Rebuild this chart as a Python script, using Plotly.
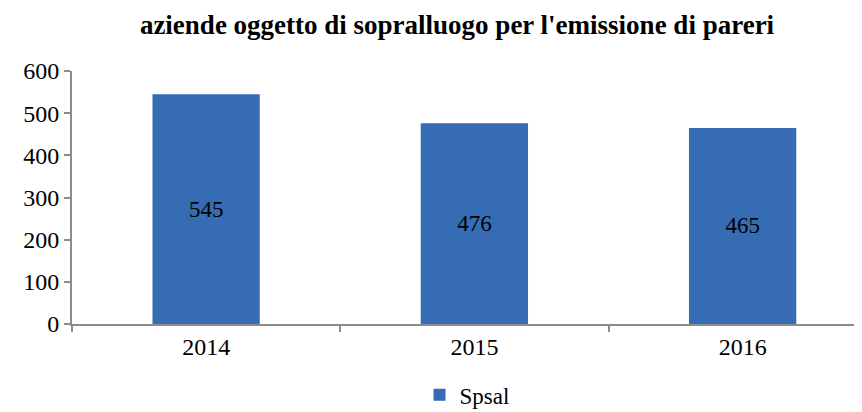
import plotly.graph_objects as go

years = ['2014', '2015', '2016']
spsal = [545, 476, 465]
y_ticks = [0, 100, 200, 300, 400, 500, 600]

serif = '"Times New Roman", "Liberation Serif", serif'

fig = go.Figure()
fig.add_trace(go.Bar(
    x=years, y=spsal, name='Spsal',
    marker=dict(color='#356CB3', line=dict(width=0)),
    width=0.4,
    text=[str(v) for v in spsal], textposition='inside', insidetextanchor='middle',
    textfont=dict(family=serif, size=23, color='black'),
    showlegend=True,
))

# page body has an 8px margin, so the figure is 8px smaller than the window
fig.update_layout(
    width=854, height=404,
    margin=dict(l=64, r=0, t=63, b=88, autoexpand=False),
    paper_bgcolor='white', plot_bgcolor='white',
    font=dict(family=serif, size=23, color='black'),
    title=dict(text="<b>aziende oggetto di sopralluogo per l'emissione di pareri</b>",
               x=449 / 854, xref='container', xanchor='center',
               y=1 - 17 / 404, yref='container', yanchor='middle',
               font=dict(family=serif, size=27, color='black')),
    showlegend=True,
    legend=dict(orientation='h', x=0.5, xanchor='center', y=-0.28, yanchor='middle',
                font=dict(family=serif, size=23, color='black')),
    bargap=0.6,
)
fig.update_xaxes(
    type='category', range=[-0.5, 2.445], automargin=False,
    showline=True, linecolor='#8c8c8c', linewidth=2,
    ticks='outside', tickson='boundaries', ticklen=6, tickcolor='#8c8c8c', tickwidth=2,
    showgrid=False, tickfont=dict(family=serif, size=24),
)
fig.update_yaxes(
    range=[0, 600], tickvals=y_ticks, automargin=False,
    showline=True, linecolor='#8c8c8c', linewidth=2,
    ticks='outside', ticklen=6, tickcolor='#8c8c8c', tickwidth=2,
    showgrid=False, zeroline=False, tickfont=dict(family=serif, size=24),
)

fig.write_html('out.html')
